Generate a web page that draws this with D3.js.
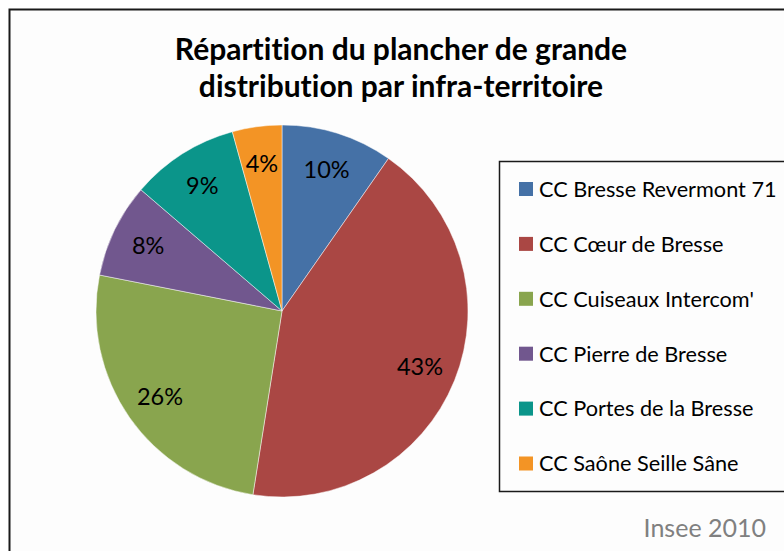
<!DOCTYPE html>
<html>
<head>
<meta charset="utf-8">
<script src="https://cdn.jsdelivr.net/npm/d3@7"></script>
<style>
  body { margin: 0; background: #ffffff; }
  svg { display: block; }
  text { font-family: Lato, "Open Sans", sans-serif; font-variant-ligatures: none; }
</style>
</head>
<body>
<svg id="chart" width="784" height="551"></svg>
<script>
// data (clockwise from 12 o'clock)
const categories = ['CC Bresse Revermont 71', 'CC Cœur de Bresse', "CC Cuiseaux Intercom'", 'CC Pierre de Bresse', 'CC Portes de la Bresse', 'CC Saône Seille Sâne']
const values = [9.7, 42.8, 25.6, 8.2, 9.4, 4.3]
const colors = ['#4571a6', '#aa4744', '#89a54e', '#71578e', '#0b958a', '#f39425']
const titleLines = ['Répartition du plancher de grande', 'distribution par infra-territoire']
const sourceLabel = 'Insee 2010'

const svg = d3.select('#chart')

// outer chart frame (runs past the right and bottom of the window)
svg.append('rect')
  .attr('x', 9.5)
  .attr('y', 9.5)
  .attr('width', 800)
  .attr('height', 560)
  .style('fill', '#fdfdfd')
  .style('stroke', '#1a1a1a')
  .style('stroke-width', 2)

svg.selectAll('.title')
  .data(titleLines)
  .enter()
  .append('text')
  .attr('class', 'title')
  .attr('x', 401)
  .attr('y', (d, i) => 60 + i * 37)
  .attr('text-anchor', 'middle')
  .style('font-size', '30px')
  .style('font-weight', 'bold')
  .style('fill', '#000')
  .text(d => d)

const cx = 282, cy = 311, radius = 186

const pie = d3.pie().sort(null).value(d => d)
const arcs = pie(values)
const arc = d3.arc().innerRadius(0).outerRadius(radius)
const labelArc = d3.arc().innerRadius(radius * 0.8).outerRadius(radius * 0.8)
const total = d3.sum(values)
const pct = d3.format('.0%')

const g = svg.append('g')
  .attr('transform', 'translate(' + cx + ',' + cy + ')')

g.selectAll('path')
  .data(arcs)
  .enter()
  .append('path')
  .attr('d', arc)
  .style('fill', (d, i) => colors[i])
  .style('stroke', '#ffffff')
  .style('stroke-opacity', 0.6)
  .style('stroke-width', 0.8)

g.selectAll('.lbl')
  .data(arcs)
  .enter()
  .append('text')
  .attr('class', 'lbl')
  .attr('transform', d => 'translate(' + labelArc.centroid(d) + ')')
  .attr('text-anchor', 'middle')
  .attr('dy', '0.36em')
  .style('font-size', '23.5px')
  .style('fill', '#000')
  .text(d => pct(d.data / total))

// legend box
const legend = svg.append('g')
  .attr('transform', 'translate(499.5,161.5)')

legend.append('rect')
  .attr('x', 0)
  .attr('y', 0)
  .attr('width', 320)
  .attr('height', 330)
  .style('fill', '#fdfdfd')
  .style('stroke', '#1a1a1a')
  .style('stroke-width', 1.5)

const rowY = d3.scalePoint().domain(categories).range([27.5, 302]).padding(0)

legend.selectAll('.sw')
  .data(categories)
  .enter()
  .append('rect')
  .attr('class', 'sw')
  .attr('x', 19.5)
  .attr('y', d => rowY(d) - 7)
  .attr('width', 14)
  .attr('height', 14)
  .style('fill', (d, i) => colors[i])

legend.selectAll('.lt')
  .data(categories)
  .enter()
  .append('text')
  .attr('class', 'lt')
  .attr('x', 39.5)
  .attr('y', d => rowY(d))
  .attr('dy', '0.36em')
  .style('font-size', '21.7px')
  .style('fill', '#000')
  .text(d => d)

svg.append('text')
  .attr('x', 766)
  .attr('y', 537)
  .attr('text-anchor', 'end')
  .style('font-size', '25px')
  .style('fill', '#808080')
  .text(sourceLabel)
</script>
</body>
</html>
